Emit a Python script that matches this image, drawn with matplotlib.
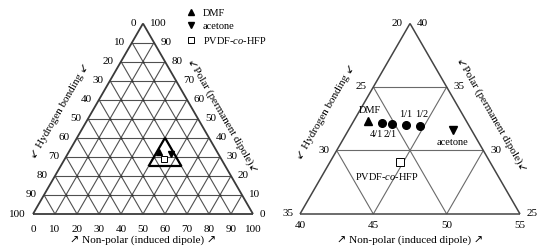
import numpy as np
import matplotlib
matplotlib.use("Agg")
import matplotlib.pyplot as plt
from matplotlib.lines import Line2D

plt.rcParams["font.family"] = ["Liberation Serif", "DejaVu Sans"]
plt.rcParams["mathtext.fontset"] = "custom"
plt.rcParams["mathtext.rm"] = "Liberation Serif"
plt.rcParams["mathtext.it"] = "Liberation Serif:italic"

# ==========================================
# Data (fractional parameters, %)
# fd = non-polar, fp = polar, fh = hydrogen bonding
# ==========================================

full_ticks = [0, 10, 20, 30, 40, 50, 60, 70, 80, 90, 100]

zoom_fd_ticks = [40, 45, 50, 55]
zoom_fp_ticks = [25, 30, 35, 40]
zoom_fh_ticks = [20, 25, 30, 35]

solvent_names = ["DMF", "acetone"]
solvent_fd = [41.0, 47.1]
solvent_fp = [32.3, 31.6]

polymer_name = "PVDF-$\\mathit{co}$-HFP"
polymer_fd = [44.8]
polymer_fp = [29.1]

blend_labels = ["4/1", "2/1", "1/1", "1/2"]
blend_fd = [42.0, 42.7, 43.7, 44.7]
blend_fp = [32.2, 32.1, 32.0, 31.9]

title_d = "\u2197 Non-polar (induced dipole) \u2197"
title_p = "\u2199Polar (permanent dipole)\u2199"
title_h = "\u2199 Hydrogen bonding \u2199"

TICK_FS = 8
TEXT_FS = 7.5
TITLE_FS = 8


def to_xy(fd, fp):
    fd = np.asarray(fd, dtype=float)
    fp = np.asarray(fp, dtype=float)
    return fd + fp / 2.0, fp * np.sqrt(3) / 2.0


def tern_line(ax, a, b, **kw):
    x, y = to_xy([a[0], b[0]], [a[1], b[1]])
    ax.plot(x, y, solid_capstyle="butt", **kw)


def label(ax, text, fd, fp, dx, dy, **kw):
    ax.annotate(text, xy=tuple(to_xy(fd, fp)), xytext=(dx, dy),
                textcoords="offset points", **kw)


fig = plt.figure(figsize=(5.5, 2.52), dpi=100)

# ==========================================
# Left: full ternary diagram
# ==========================================

ax1 = fig.add_axes([0, 0, 0.5, 1])
ax1.set_xlim(-15, 110)
ax1.set_ylim(-17.27, 97.27)
ax1.axis("off")

grid_kw = dict(color="#505050", lw=0.8, zorder=1)
for v in full_ticks[1:-1]:
    tern_line(ax1, (v, 0), (v, 100 - v), **grid_kw)
    tern_line(ax1, (0, v), (100 - v, v), **grid_kw)
    tern_line(ax1, (100 - v, 0), (0, 100 - v), **grid_kw)

# small dots on the grid nodes
node_fd, node_fp = [], []
for a in full_ticks[1:-1]:
    for b in full_ticks[1:-1]:
        if a + b < 100:
            node_fd.append(a)
            node_fp.append(b)
nx, ny = to_xy(node_fd, node_fp)
ax1.plot(nx, ny, "o", ms=1.6, color="#333333", mec="none", zorder=2)

edge_kw = dict(color="#3a3a3a", lw=1.3, zorder=3)
tern_line(ax1, (0, 0), (100, 0), **edge_kw)
tern_line(ax1, (100, 0), (0, 100), **edge_kw)
tern_line(ax1, (0, 100), (0, 0), **edge_kw)

# outline of the zoomed region
box_kw = dict(color="black", lw=1.6, zorder=4)
tern_line(ax1, (zoom_fd_ticks[0], zoom_fp_ticks[0]), (zoom_fd_ticks[-1], zoom_fp_ticks[0]), **box_kw)
tern_line(ax1, (zoom_fd_ticks[-1], zoom_fp_ticks[0]), (zoom_fd_ticks[0], zoom_fp_ticks[-1]), **box_kw)
tern_line(ax1, (zoom_fd_ticks[0], zoom_fp_ticks[-1]), (zoom_fd_ticks[0], zoom_fp_ticks[0]), **box_kw)

for v in full_ticks:
    label(ax1, str(v), v, 0, 0, -10.8, ha="center", va="center", fontsize=TICK_FS)
    label(ax1, str(v), 0, 100 - v, -5, 0, ha="right", va="center", fontsize=TICK_FS)
    label(ax1, str(v), 100 - v, v, 5, 0, ha="left", va="center", fontsize=TICK_FS)

x, y = to_xy(solvent_fd[0], solvent_fp[0])
ax1.plot(x, y, "^", ms=4.5, color="black", zorder=5)
x, y = to_xy(solvent_fd[1], solvent_fp[1])
ax1.plot(x, y, "v", ms=4.5, color="black", zorder=5)
x, y = to_xy(polymer_fd, polymer_fp)
ax1.plot(x, y, "s", ms=4.5, mfc="white", mec="black", mew=0.7, zorder=5)

handles = [
    Line2D([], [], ls="none", marker="^", ms=5, color="black"),
    Line2D([], [], ls="none", marker="v", ms=5, color="black"),
    Line2D([], [], ls="none", marker="s", ms=5, mfc="white", mec="black", mew=0.7),
]
ax1.legend(handles, solvent_names + [polymer_name], loc="upper left",
           bbox_to_anchor=(0.676, 0.965), frameon=False, borderpad=0,
           borderaxespad=0, handlelength=1.0, handletextpad=0.6,
           labelspacing=0.35, fontsize=TEXT_FS)

label(ax1, title_d, 50, 0, 0, -19, ha="center", va="center", fontsize=TITLE_FS)
label(ax1, title_h, 0, 50, -20, 6, ha="center", va="center", rotation=60,
      rotation_mode="anchor", fontsize=TITLE_FS)
label(ax1, title_p, 50, 50, 18, 2, ha="center", va="center", rotation=-60,
      rotation_mode="anchor", fontsize=TITLE_FS)

# ==========================================
# Right: zoomed region
# ==========================================

ax2 = fig.add_axes([0.5, 0, 0.5, 1])
x0, y0 = to_xy(zoom_fd_ticks[0], zoom_fp_ticks[0])
ax2.set_xlim(x0 - 1.705, x0 + 17.045)
ax2.set_ylim(y0 - 2.591, y0 + 14.591)
ax2.axis("off")

fd_lo, fp_lo, fh_lo = zoom_fd_ticks[0], zoom_fp_ticks[0], zoom_fh_ticks[0]
grid2_kw = dict(color="#6a6a6a", lw=0.8, zorder=1)
for v in zoom_fd_ticks[1:-1]:
    tern_line(ax2, (v, fp_lo), (v, 100 - fh_lo - v), **grid2_kw)
for v in zoom_fp_ticks[1:-1]:
    tern_line(ax2, (fd_lo, v), (100 - fh_lo - v, v), **grid2_kw)
for v in zoom_fh_ticks[1:-1]:
    tern_line(ax2, (100 - v - fp_lo, fp_lo), (fd_lo, 100 - v - fd_lo), **grid2_kw)

edge2_kw = dict(color="#444444", lw=1.1, zorder=3)
tern_line(ax2, (fd_lo, fp_lo), (zoom_fd_ticks[-1], fp_lo), **edge2_kw)
tern_line(ax2, (zoom_fd_ticks[-1], fp_lo), (fd_lo, zoom_fp_ticks[-1]), **edge2_kw)
tern_line(ax2, (fd_lo, zoom_fp_ticks[-1]), (fd_lo, fp_lo), **edge2_kw)

for v in zoom_fd_ticks:
    label(ax2, str(v), v, fp_lo, 0, -8, ha="center", va="center", fontsize=TICK_FS)
for v in zoom_fh_ticks:
    label(ax2, str(v), fd_lo, 100 - v - fd_lo, -5, 0, ha="right", va="center", fontsize=TICK_FS)
for v in zoom_fp_ticks:
    label(ax2, str(v), 100 - fh_lo - v, v, 5, 0, ha="left", va="center", fontsize=TICK_FS)

x, y = to_xy(solvent_fd[0], solvent_fp[0])
ax2.plot(x, y, "^", ms=5.2, color="black", zorder=5)
x, y = to_xy(solvent_fd[1], solvent_fp[1])
ax2.plot(x, y, "v", ms=5.2, color="black", zorder=5)
x, y = to_xy(blend_fd, blend_fp)
ax2.plot(x, y, "o", ms=5.5, color="black", ls="none", zorder=5)
x, y = to_xy(polymer_fd, polymer_fp)
ax2.plot(x, y, "s", ms=5.2, mfc="white", mec="black", mew=0.7, zorder=5)

label(ax2, solvent_names[0], solvent_fd[0], solvent_fp[0], 1.5, 7.5, ha="center", va="center", fontsize=TEXT_FS)
label(ax2, solvent_names[1], solvent_fd[1], solvent_fp[1], 0, -9, ha="center", va="center", fontsize=TEXT_FS)
label(ax2, polymer_name, polymer_fd[0], polymer_fp[0], -10, -10.5, ha="center", va="center", fontsize=TEXT_FS)
blend_offsets = [(-4.5, -8.5), (-1, -8), (0, 7.5), (1.5, 8.5)]
for name, fd, fp, (dx, dy) in zip(blend_labels, blend_fd, blend_fp, blend_offsets):
    label(ax2, name, fd, fp, dx, dy, ha="center", va="center", fontsize=TEXT_FS)

mid_fd = (zoom_fd_ticks[0] + zoom_fd_ticks[-1]) / 2
mid_fp = (zoom_fp_ticks[0] + zoom_fp_ticks[-1]) / 2
label(ax2, title_d, mid_fd, fp_lo, 0, -19, ha="center", va="center", fontsize=TITLE_FS)
label(ax2, title_h, fd_lo, mid_fp, -21, 5, ha="center", va="center", rotation=60,
      rotation_mode="anchor", fontsize=TITLE_FS)
label(ax2, title_p, 100 - fh_lo - mid_fp, mid_fp, 19, 3, ha="center", va="center",
      rotation=-60, rotation_mode="anchor", fontsize=TITLE_FS)

fig.savefig("out.png", dpi=100, facecolor="white")
